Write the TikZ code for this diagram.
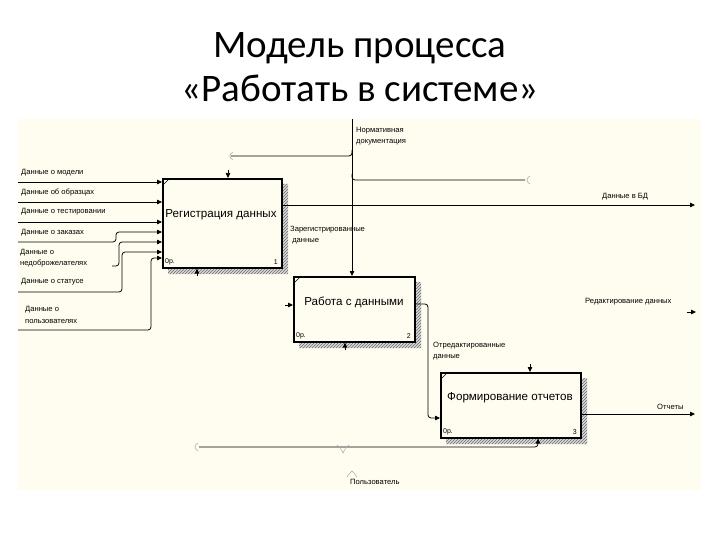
\documentclass[tikz,border=0pt]{standalone}
\usepackage{fontspec}
\setmainfont{Liberation Sans}
\newfontfamily\titlef{Carlito}
\usetikzlibrary{arrows.meta,patterns}
\definecolor{cream}{HTML}{FFFDF0}
\begin{document}
\begin{tikzpicture}[x=1pt,y=-1pt,
  conn/.style={draw, line width=0.75pt, rounded corners=3pt},
  arr/.style={conn, -{Triangle[length=5pt,width=4.5pt]}},
  lbl/.style={font=\fontsize{7.6}{11.5}\selectfont, inner sep=0pt, anchor=west, align=left},
  idef/.style={draw, line width=1.6pt, fill=cream, anchor=north west, inner sep=0pt},
  boxtxt/.style={font=\fontsize{11.6}{13}\selectfont, inner sep=0pt},
  num/.style={font=\fontsize{7}{8}\selectfont, inner sep=0pt},
  tmark/.style={draw=gray!70, line width=0.5pt},
  shade/.style={fill=gray!30, postaction={pattern=north east lines, pattern color=gray!85!black}}
]
\useasboundingbox (0,0) rectangle (720,540);
\fill[white] (0,0) rectangle (720,540);
\fill[cream] (18,119) rectangle (701,490);

% titles
\node[font=\titlef\fontsize{39}{44}\selectfont, anchor=base, inner sep=0pt] (t1) at (360,58) {Модель процесса};
\node[font=\titlef\fontsize{39}{44}\selectfont, anchor=base, inner sep=0pt] (t2) at (360,102) {«Работать в системе»};

% shadows
\path[shade] (281,184) -- (288,184) -- (288,274) -- (168,274) -- (168,267) -- (281,267) -- cycle;
\path[shade] (414,282) -- (421,282) -- (421,348) -- (299,348) -- (299,341) -- (414,341) -- cycle;
\path[shade] (580,378) -- (587,378) -- (587,444) -- (446,444) -- (446,437) -- (580,437) -- cycle;

% boxes
\node[idef, minimum width=119pt, minimum height=89pt] (b1) at (162,178) {};
\node[idef, minimum width=121pt, minimum height=65pt] (b2) at (293,276) {};
\node[idef, minimum width=140pt, minimum height=65pt] (b3) at (440,372) {};
\node[boxtxt] (b1t) at (221,215) {Регистрация данных};
\node[boxtxt] (b2t) at (354,302) {Работа с данными};
\node[boxtxt] (b3t) at (510,398) {Формирование отчетов};
\node[num, anchor=west] (b1c) at (165,262) {0р.};
\node[num, anchor=east] (b1n) at (278,262) {1};
\node[num, anchor=west] (b2c) at (296,336) {0р.};
\node[num, anchor=east] (b2n) at (411,336) {2};
\node[num, anchor=west] (b3c) at (443,432) {0р.};
\node[num, anchor=east] (b3n) at (577,432) {3};
\draw[line width=0.6pt] (163,185) -- (169,179);
\draw[line width=0.6pt] (294,283) -- (300,277);
\draw[line width=0.6pt] (441,379) -- (447,373);

% inputs to box 1
\coordinate (L1) at (18,182);
\coordinate (L2) at (18,202);
\coordinate (L3) at (18,222);
\coordinate (L4) at (18,242);
\coordinate (L5) at (112,266);
\coordinate (L6) at (18,292);
\coordinate (L7) at (18,330);
\draw[arr] (L1) -- (L1 -| b1.west);
\draw[arr] (L2) -- (L2 -| b1.west);
\draw[arr] (L3) -- (L3 -| b1.west);
\coordinate (L4b) at (116,232);
\draw[arr] (L4) -- (116,242) -- (L4b) -- (L4b -| b1.west);
\coordinate (L5b) at (119,242);
\draw[arr] (L5) -- (119,266) -- (L5b) -- (L5b -| b1.west);
\coordinate (L6b) at (122,252);
\draw[arr] (L6) -- (122,292) -- (L6b) -- (L6b -| b1.west);
\coordinate (L7b) at (151,258);
\draw[arr] (L7) -- (151,330) -- (L7b) -- (L7b -| b1.west);

\node[lbl] (l1) at (21,173) {Данные о модели};
\node[lbl] (l2) at (21,193) {Данные об образцах};
\node[lbl] (l3) at (21,212) {Данные о тестировании};
\node[lbl] (l4) at (21,233) {Данные о заказах};
\node[lbl] (l5) at (20,258) {Данные о\\недоброжелателях};
\node[lbl] (l6) at (21,282) {Данные о статусе};
\node[lbl] (l7) at (25,315) {Данные о\\пользователях};

% control
\coordinate (ctop) at (352,119);
\draw[arr] (ctop) -- (ctop |- b2.north);
\node[lbl] (lc) at (356,136) {Нормативная\\документация};
\draw[conn] (352,150) -- (352,156) -- (231,156);
\draw[tmark] (233,152) .. controls (229,154) and (229,158) .. (233,160);
\coordinate (c1) at (228,170);
\draw[arr] (c1) -- (c1 |- b1.north);
\draw[conn] (352,174) -- (352,180) -- (525,180);
\draw[tmark] (530,176) .. controls (526,178) and (526,182) .. (530,184);
\coordinate (c3) at (530,364);
\draw[arr] (c3) -- (c3 |- b3.north);

% outputs
\coordinate (o1) at (695,205);
\draw[arr] (o1 -| b1.east) -- (o1);
\node[lbl] (lo1) at (602,197) {Данные в БД};
\node[lbl] (lz) at (290,235) {Зарегистрированные\\\ данные};
\coordinate (c2) at (285,305);
\draw[arr] (c2) -- (c2 -| b2.west);
\coordinate (o2) at (687,312);
\draw[arr] (o2) -- (696,312);
\node[lbl] (lo2) at (585,302) {Редактирование данных};
\coordinate (k1) at (428,304);
\coordinate (k2) at (428,418);
\draw[arr] (k1 -| b2.east) -- (k1) -- (k2) -- (k2 -| b3.west);
\node[lbl] (lk) at (433,351) {Отредактированные\\данные};
\coordinate (o3) at (695,414);
\draw[arr] (o3 -| b3.east) -- (o3);
\node[lbl] (lo3) at (657,407) {Отчеты};

% mechanism
\coordinate (m0) at (199,447);
\coordinate (m1) at (538,447);
\draw[arr] (m0) -- (m1) -- (m1 |- b3.south);
\draw[tmark] (198,443) .. controls (194,445) and (194,449) .. (198,451);
\draw[tmark] (337,445) .. controls (340,447) and (342,450) .. (343,453) .. controls (344,450) and (346,447) .. (349,445);
\draw[tmark] (347,477) .. controls (349,474) and (351,472) .. (352,471) .. controls (353,472) and (355,474) .. (357,477);
\node[lbl] (lm) at (350,482) {Пользователь};
\coordinate (m2) at (197,276);
\draw[arr] (m2) -- (m2 |- b1.south);
\coordinate (m3) at (345,350);
\draw[arr] (m3) -- (m3 |- b2.south);
\end{tikzpicture}
\end{document}
